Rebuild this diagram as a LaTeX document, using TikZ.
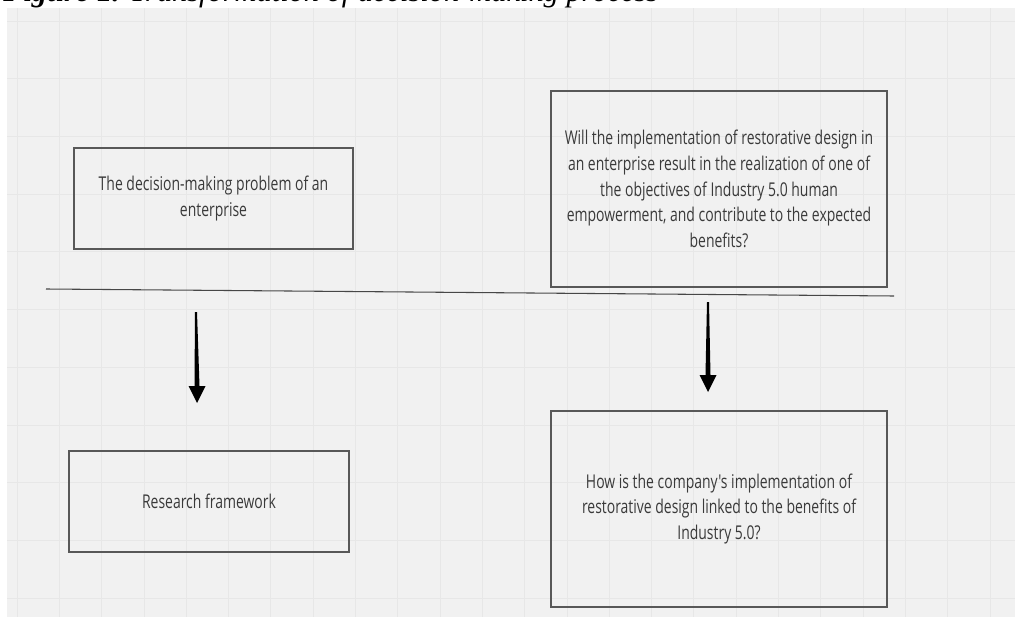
\documentclass[tikz,border=0pt]{standalone}
\usepackage{fontspec}
\setmainfont{Liberation Serif}
\newfontfamily\boxfont[FakeStretch=0.735]{Open Sans}
\usetikzlibrary{calc}

\definecolor{canvasgray}{RGB}{241,241,241}
\definecolor{gridgray}{RGB}{231,231,231}
\definecolor{framegray}{RGB}{88,88,88}
\definecolor{inkgray}{RGB}{58,58,58}

\begin{document}
\begin{tikzpicture}[x=0.75pt,y=0.75pt,yscale=-1,xscale=1,
  gridline/.style={draw=gridgray, line width=0.6pt},
  question/.style={draw=framegray, line width=1.1pt, text=inkgray, align=center, inner sep=0pt,
    font=\boxfont\fontsize{14.25}{19.2}\selectfont},
  divider/.style={draw=black!72, line width=0.8pt},
  arrowink/.style={fill=black}]
\useasboundingbox (0,0) rectangle (1015,617);

%Shape: Canvas
\fill[canvasgray] (7,8) rectangle (1015,617);
\foreach \gx in {0,...,23} \draw[gridline] ({17+42.3*\gx},8) -- ({17+42.3*\gx},617);
\foreach \gy in {0,...,10} \draw[gridline] (7,{21+57.7*\gy}) -- (1015,{21+57.7*\gy});

% Text Node
\node (caption) [anchor=base west, inner sep=0pt, font=\fontsize{22.8}{26}\selectfont\itshape] at (3,1.5) {\textbf{Figure 1.} Transformation of decision-making process};

%Shape: Rectangle
\node (problem) [question, minimum width=209.25pt, minimum height=75.75pt] at (213.5,198.5) {The decision-making problem of an\\enterprise};
%Shape: Rectangle
\node (restorative) [question, minimum width=252pt, minimum height=147pt] at (719,189) {Will the implementation of restorative design in\\an enterprise result in the realization of one of\\the objectives of Industry 5.0 human\\empowerment, and contribute to the expected\\benefits?};
%Shape: Rectangle
\node (framework) [question, minimum width=210pt, minimum height=75.75pt] at (209,501.5) {Research framework};
%Shape: Rectangle
\node (linkage) [question, minimum width=252pt, minimum height=147pt] at (719,509) {How is the company's implementation of\\restorative design linked to the benefits of\\Industry 5.0?};

%Straight Lines
\coordinate (divleft) at (46,289);
\coordinate (divright) at (894,296);
\draw[divider] (divleft) -- (divright);

%Straight Lines
\coordinate (problemtop) at (196,312);
\coordinate (problemtip) at (197,403);
\fill[arrowink] ($(problemtop)+(-1,0)$) -- ($(problemtop)+(1,0)$) -- ($(problemtip)+(2.5,-17)$) -- ($(problemtip)+(8.5,-17)$) -- (problemtip) -- ($(problemtip)+(-8.5,-17)$) -- ($(problemtip)+(-2.5,-17)$) -- cycle;
%Straight Lines
\coordinate (restorativetop) at (708,302);
\coordinate (restorativetip) at (708,392);
\fill[arrowink] ($(restorativetop)+(-1,0)$) -- ($(restorativetop)+(1,0)$) -- ($(restorativetip)+(2.5,-17)$) -- ($(restorativetip)+(8.5,-17)$) -- (restorativetip) -- ($(restorativetip)+(-8.5,-17)$) -- ($(restorativetip)+(-2.5,-17)$) -- cycle;

\end{tikzpicture}
\end{document}
